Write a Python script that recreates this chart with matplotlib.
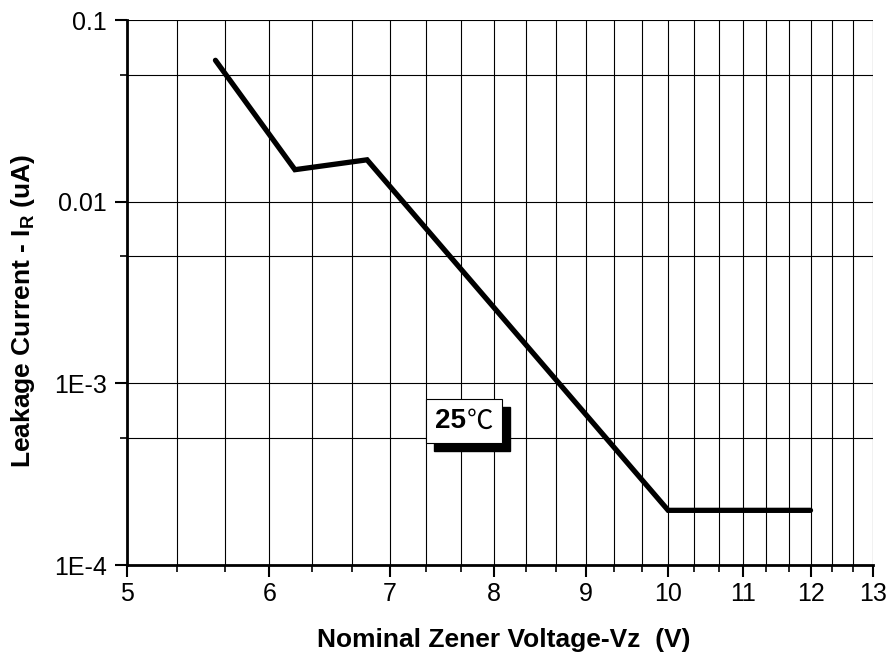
import numpy as np
import matplotlib
matplotlib.use("Agg")
import matplotlib.pyplot as plt
from matplotlib.ticker import FixedLocator, FixedFormatter, NullFormatter
from matplotlib.patches import Rectangle

plt.rcParams['font.family'] = ['Liberation Sans', 'DejaVu Sans']

# ---- data ----
vz = [5.6, 6.2, 6.8, 10.0, 12.0]
ir = [0.06, 0.015, 0.017, 2e-4, 2e-4]

x_major = [5, 6, 7, 8, 9, 10, 11, 12, 13]
x_labels = ['5', '6', '7', '8', '9', '10', '11', '12', '13']
y_major = [1e-4, 1e-3, 1e-2, 1e-1]
y_labels = ['1E-4', '1E-3', '0.01', '0.1']
y_minor = [5e-4, 5e-3, 5e-2]

fig = plt.figure(figsize=(8.91, 6.58), dpi=100)
ax = fig.add_axes([0.1425, 0.1413, 0.8373, 0.8283])

ax.set_xscale('log')
ax.set_yscale('log')
ax.set_xlim(5, 13)
ax.set_ylim(1e-4, 0.1)

# minor x ticks every 1/3 volt
x_minor = [v + k / 3 for v in range(5, 13) for k in (1, 2)]

ax.xaxis.set_major_locator(FixedLocator(x_major))
ax.xaxis.set_major_formatter(FixedFormatter(x_labels))
ax.xaxis.set_minor_locator(FixedLocator(x_minor))
ax.xaxis.set_minor_formatter(NullFormatter())
ax.yaxis.set_major_locator(FixedLocator(y_major))
ax.yaxis.set_major_formatter(FixedFormatter(y_labels))
ax.yaxis.set_minor_locator(FixedLocator(y_minor))
ax.yaxis.set_minor_formatter(NullFormatter())

ax.grid(True, which='both', color='black', linewidth=0.8)
ax.tick_params(which='major', direction='out', length=8.5, width=1.5,
               labelsize=18, pad=6)
ax.tick_params(axis='x', which='major', pad=4)
ax.tick_params(which='minor', direction='out', length=5, width=1.2)

for side in ('top', 'right'):
    ax.spines[side].set_visible(False)
for side in ('left', 'bottom'):
    ax.spines[side].set_linewidth(2)

ax.plot(vz, ir, color='black', linewidth=3.8, solid_capstyle='round',
        solid_joinstyle='miter', zorder=3)

ax.set_xlabel('Nominal Zener Voltage-Vz  (V)', fontsize=19, fontweight='bold')
ax.set_ylabel(r'Leakage Current - I$_\mathregular{R}$ (uA)', fontsize=19,
              fontweight='bold')
ax.xaxis.set_label_coords(0.505, -0.116)
ax.yaxis.set_label_coords(-0.121, 0.466)

# 25 C label box with a drop shadow
bx, by, bw, bh = 0.401, 0.224, 0.102, 0.081
ax.add_patch(Rectangle((bx + 0.011, by - 0.015), bw, bh, transform=ax.transAxes,
                       facecolor='black', edgecolor='black', zorder=4))
ax.add_patch(Rectangle((bx, by), bw, bh, transform=ax.transAxes,
                       facecolor='white', edgecolor='black', linewidth=0.8,
                       zorder=5))
ax.text(bx + 0.054, by + bh / 2, '25', transform=ax.transAxes, ha='right',
        va='center', fontsize=20, fontweight='bold', zorder=6)
ax.text(bx + 0.055, by + bh / 2, '℃', transform=ax.transAxes, ha='left',
        va='center', fontsize=19, family=['Noto Sans CJK SC', 'DejaVu Sans'],
        zorder=6)

fig.savefig('out.png', dpi=100)
plt.close(fig)
